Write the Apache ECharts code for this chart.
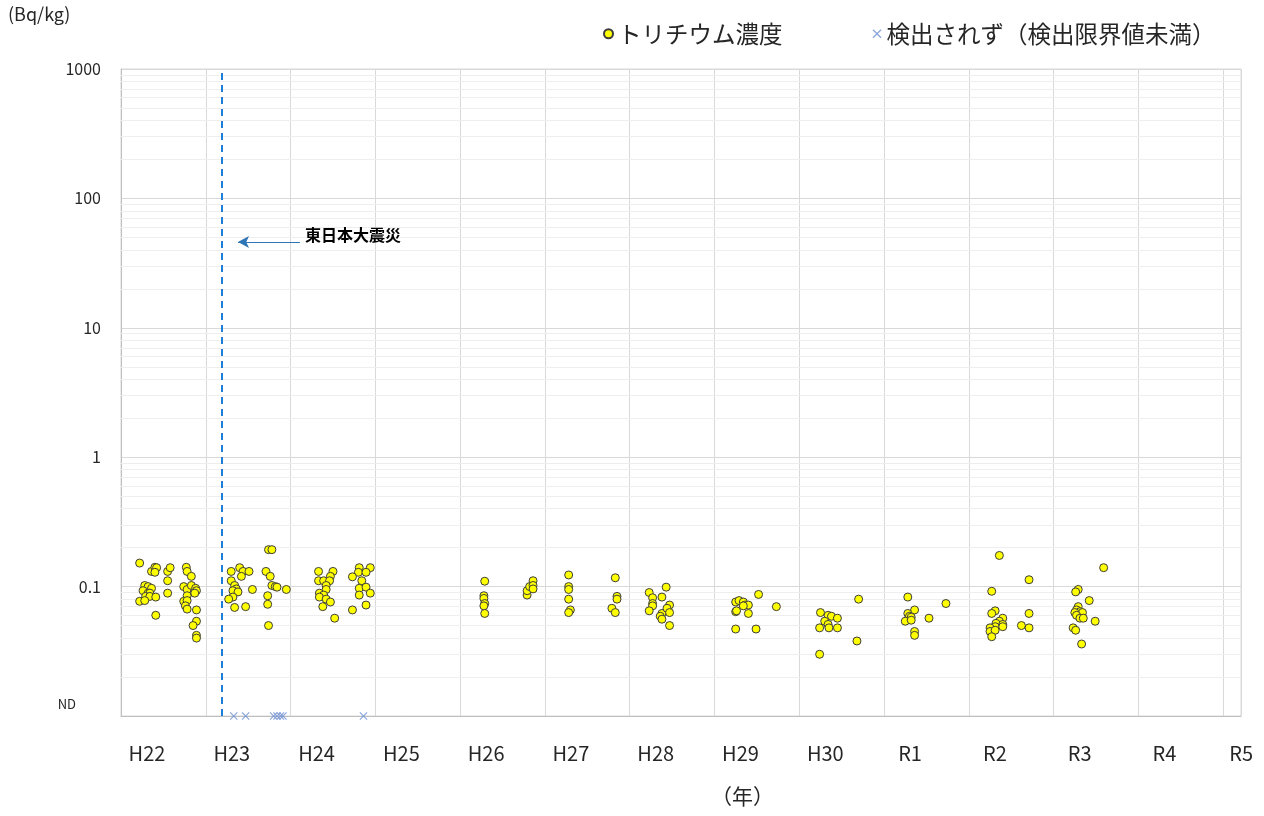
<!DOCTYPE html>
<html>
<head>
<meta charset="utf-8">
<script src="https://cdn.jsdelivr.net/npm/echarts@6/dist/echarts.min.js"></script>
<style>
  html, body { margin: 0; padding: 0; background: #ffffff; }
  #chart { width: 1264px; height: 816px; }
</style>
</head>
<body>
<div id="chart"></div>
<script>
// Fiscal-year labels shown under each calendar-year band
const eraLabels = ['H22', 'H23', 'H24', 'H25', 'H26', 'H27', 'H28', 'H29', 'H30', 'R1', 'R2', 'R3', 'R4', 'R5'];

// Date of the Great East Japan Earthquake (decimal year)
const quakeDate = 2011.19;
const quakeText = '東日本大震災';

// Tritium concentration samples: [decimal year, Bq/kg]
const h22Samples = [
  [2010.22, 0.152], [2010.36, 0.131], [2010.40, 0.141], [2010.42, 0.140], [2010.40, 0.129],
  [2010.55, 0.131], [2010.58, 0.140], [2010.55, 0.111], [2010.55, 0.089], [2010.28, 0.102],
  [2010.32, 0.100], [2010.36, 0.097], [2010.26, 0.093], [2010.32, 0.089], [2010.34, 0.089],
  [2010.29, 0.084], [2010.34, 0.084], [2010.41, 0.083], [2010.22, 0.077], [2010.28, 0.078],
  [2010.41, 0.060], [2010.77, 0.141], [2010.78, 0.131], [2010.83, 0.120], [2010.74, 0.100],
  [2010.78, 0.095], [2010.83, 0.102], [2010.88, 0.097], [2010.89, 0.093], [2010.87, 0.089],
  [2010.78, 0.085], [2010.74, 0.077], [2010.78, 0.078], [2010.76, 0.071], [2010.78, 0.067],
  [2010.89, 0.066], [2010.89, 0.054], [2010.85, 0.050], [2010.89, 0.042], [2010.89, 0.040]
];
const h23Samples = [
  [2011.30, 0.131], [2011.40, 0.140], [2011.44, 0.131], [2011.51, 0.131], [2011.42, 0.120],
  [2011.30, 0.111], [2011.34, 0.102], [2011.36, 0.096], [2011.32, 0.093], [2011.38, 0.091],
  [2011.32, 0.083], [2011.27, 0.080], [2011.55, 0.095], [2011.34, 0.069], [2011.47, 0.070],
  [2011.74, 0.193], [2011.78, 0.193], [2011.71, 0.131], [2011.76, 0.120], [2011.78, 0.102],
  [2011.82, 0.100], [2011.84, 0.099], [2011.95, 0.095], [2011.73, 0.085], [2011.73, 0.073],
  [2011.74, 0.050]
];
const h24Samples = [
  [2012.33, 0.131], [2012.50, 0.131], [2012.47, 0.120], [2012.33, 0.111], [2012.39, 0.111],
  [2012.46, 0.111], [2012.42, 0.102], [2012.42, 0.095], [2012.34, 0.089], [2012.39, 0.086],
  [2012.34, 0.083], [2012.42, 0.080], [2012.47, 0.076], [2012.38, 0.070], [2012.52, 0.057],
  [2012.81, 0.140], [2012.94, 0.140], [2012.80, 0.129], [2012.89, 0.129], [2012.73, 0.119],
  [2012.84, 0.111], [2012.81, 0.097], [2012.89, 0.099], [2012.94, 0.089], [2012.81, 0.086],
  [2012.73, 0.066], [2012.89, 0.072]
];
const h26Samples = [
  [2014.29, 0.110], [2014.28, 0.085], [2014.28, 0.081], [2014.29, 0.074], [2014.28, 0.071],
  [2014.29, 0.062], [2014.79, 0.086], [2014.79, 0.093], [2014.82, 0.100], [2014.86, 0.111],
  [2014.86, 0.102], [2014.86, 0.096]
];
const h27Samples = [
  [2015.28, 0.123], [2015.28, 0.100], [2015.28, 0.095], [2015.28, 0.080], [2015.30, 0.066],
  [2015.28, 0.063], [2015.83, 0.117], [2015.85, 0.084], [2015.85, 0.080], [2015.79, 0.068],
  [2015.83, 0.063]
];
const h28Samples = [
  [2016.23, 0.090], [2016.27, 0.082], [2016.27, 0.074], [2016.27, 0.071], [2016.23, 0.065],
  [2016.38, 0.083], [2016.43, 0.099], [2016.38, 0.062], [2016.36, 0.059], [2016.38, 0.056],
  [2016.47, 0.072], [2016.44, 0.068], [2016.47, 0.063], [2016.47, 0.050]
];
const h29Samples = [
  [2017.25, 0.076], [2017.29, 0.078], [2017.34, 0.076], [2017.36, 0.072], [2017.40, 0.072],
  [2017.34, 0.071], [2017.25, 0.064], [2017.26, 0.065], [2017.40, 0.062], [2017.52, 0.087],
  [2017.73, 0.070], [2017.25, 0.047], [2017.49, 0.047]
];
const h30Samples = [
  [2018.25, 0.063], [2018.34, 0.060], [2018.38, 0.059], [2018.45, 0.057], [2018.30, 0.054],
  [2018.34, 0.051], [2018.24, 0.048], [2018.35, 0.048], [2018.45, 0.048], [2018.70, 0.080],
  [2018.68, 0.038], [2018.24, 0.030]
];
const r1Samples = [
  [2019.28, 0.083], [2019.36, 0.066], [2019.28, 0.062], [2019.30, 0.059], [2019.32, 0.058],
  [2019.25, 0.054], [2019.32, 0.055], [2019.53, 0.057], [2019.73, 0.074], [2019.36, 0.045],
  [2019.36, 0.042]
];
const r2Samples = [
  [2020.36, 0.174], [2020.71, 0.113], [2020.27, 0.092], [2020.31, 0.065], [2020.27, 0.062],
  [2020.40, 0.057], [2020.36, 0.054], [2020.32, 0.052], [2020.40, 0.051], [2020.31, 0.049],
  [2020.25, 0.048], [2020.40, 0.049], [2020.25, 0.045], [2020.31, 0.046], [2020.27, 0.041],
  [2020.62, 0.050], [2020.71, 0.062], [2020.71, 0.048]
];
const r3Samples = [
  [2021.29, 0.095], [2021.26, 0.091], [2021.42, 0.078], [2021.29, 0.070], [2021.27, 0.066],
  [2021.31, 0.064], [2021.25, 0.063], [2021.34, 0.063], [2021.27, 0.060], [2021.31, 0.057],
  [2021.35, 0.057], [2021.49, 0.054], [2021.23, 0.048], [2021.26, 0.046], [2021.33, 0.036],
  [2021.59, 0.140]
];

// Samples below the detection limit, plotted on the ND baseline
const ndDates = [2011.33, 2011.47, 2011.80, 2011.84, 2011.88, 2011.91, 2012.86];
const ndLevel = 0.01;

const tritiumSamples = [].concat(
  h22Samples, h23Samples, h24Samples, h26Samples, h27Samples, h28Samples,
  h29Samples, h30Samples, r1Samples, r2Samples, r3Samples
);

const FONT = '"Noto Sans CJK JP", "Noto Sans", sans-serif';
const TEXT = '#262626';

// Minor log grid at 2..9 within every decade
const minorLevels = [];
for (let e = -2; e < 3; e++) {
  for (let k = 2; k <= 9; k++) minorLevels.push(Number((k * Math.pow(10, e)).toPrecision(2)));
}

const crossPath = 'path://M0,1L1,0L5,4L9,0L10,1L6,5L10,9L9,10L5,6L1,10L0,9L4,5Z';

const chart = echarts.init(document.getElementById('chart'), null, { renderer: 'canvas' });

chart.setOption({
  animation: false,
  backgroundColor: '#ffffff',
  textStyle: { fontFamily: FONT },
  grid: {
    left: 121, right: 23, top: 69, bottom: 100,
    show: true, borderColor: '#d9d9d9', borderWidth: 1
  },
  graphic: [
    { type: 'text', left: 8, top: 5, style: { text: '(Bq/kg)', fontSize: 18, fontFamily: FONT, fill: TEXT } },
    { type: 'text', left: 711, top: 786, style: { text: '（年）', fontSize: 21, fontFamily: FONT, fill: TEXT } }
  ],
  legend: {
    top: 17, left: 598, itemGap: 90, itemWidth: 9, itemHeight: 9,
    textStyle: { fontSize: 23.5, color: TEXT, fontFamily: FONT },
    data: [
      { name: 'トリチウム濃度', icon: 'circle' },
      { name: '検出されず（検出限界値未満）', icon: crossPath }
    ]
  },
  xAxis: {
    type: 'value', min: 2010, max: 2023.21, interval: 1,
    axisLine: { show: true, lineStyle: { color: '#bfbfbf' } },
    axisTick: { show: false },
    splitLine: { show: true, lineStyle: { color: '#d9d9d9', width: 1 } },
    axisLabel: {
      showMaxLabel: false,
      margin: 27,
      fontSize: 20,
      color: TEXT,
      formatter: function (v) {
        const i = Math.round(v - 2010);
        if (Math.abs(v - 2010 - i) > 1e-6 || i < 0 || i >= eraLabels.length) return '';
        return i === eraLabels.length - 1 ? '{last|' + eraLabels[i] + '}' : '{era|' + eraLabels[i] + '}';
      },
      rich: {
        era: { fontSize: 20, color: TEXT, fontFamily: FONT, padding: [0, 0, 0, 52] },
        last: { fontSize: 20, color: TEXT, fontFamily: FONT, padding: [0, 0, 0, 36] }
      }
    }
  },
  yAxis: {
    type: 'log', logBase: 10, min: 0.01, max: 1000,
    axisLine: { show: true, lineStyle: { color: '#bfbfbf' } },
    axisTick: { show: false },
    splitLine: { show: true, lineStyle: { color: '#d9d9d9', width: 1 } },
    axisLabel: {
      margin: 20,
      fontSize: 16,
      color: TEXT,
      formatter: function (v) {
        if (v < 0.05) return '{nd|ND}';
        return String(Number(v.toPrecision(3)));
      },
      rich: {
        nd: { fontSize: 13, color: TEXT, fontFamily: FONT, padding: [0, 25, 24, 0] }
      }
    }
  },
  series: [
    {
      name: 'minor-grid',
      type: 'scatter',
      data: [],
      z: 1,
      silent: true,
      markLine: {
        silent: true,
        z: 1,
        symbol: ['none', 'none'],
        label: { show: false },
        lineStyle: { color: '#eeeeee', width: 1, type: 'solid' },
        emphasis: { disabled: true },
        data: minorLevels.map(function (v) { return { yAxis: v }; })
      }
    },
    {
      name: 'トリチウム濃度',
      type: 'scatter',
      data: tritiumSamples,
      symbol: 'circle',
      symbolSize: 8,
      clip: false,
      z: 4,
      itemStyle: { color: '#ffff00', borderColor: '#3c3c3c', borderWidth: 1, opacity: 1 },
      markLine: {
        silent: true,
        z: 2,
        symbol: ['none', 'none'],
        emphasis: { disabled: true },
        data: [
          {
            xAxis: quakeDate,
            label: { show: false },
            lineStyle: { color: '#1f7fd6', width: 2, type: [7, 5] }
          },
          [
            {
              coord: [2012.11, 46],
              symbol: 'none',
              lineStyle: { color: '#2e75b6', width: 1, type: 'solid' },
              label: {
                show: true, position: 'start', distance: 5,
                formatter: quakeText,
                fontSize: 16, fontWeight: 'bold', color: '#000000', fontFamily: FONT,
                offset: [0, -7]
              }
            },
            { coord: [2011.38, 46], symbol: 'arrow', symbolSize: [9, 11] }
          ]
        ]
      }
    },
    {
      name: '検出されず（検出限界値未満）',
      type: 'scatter',
      data: ndDates.map(function (d) { return [d, ndLevel]; }),
      symbol: crossPath,
      symbolSize: 8,
      clip: false,
      z: 4,
      itemStyle: { color: '#6d8fd2' }
    }
  ]
});
</script>
</body>
</html>
